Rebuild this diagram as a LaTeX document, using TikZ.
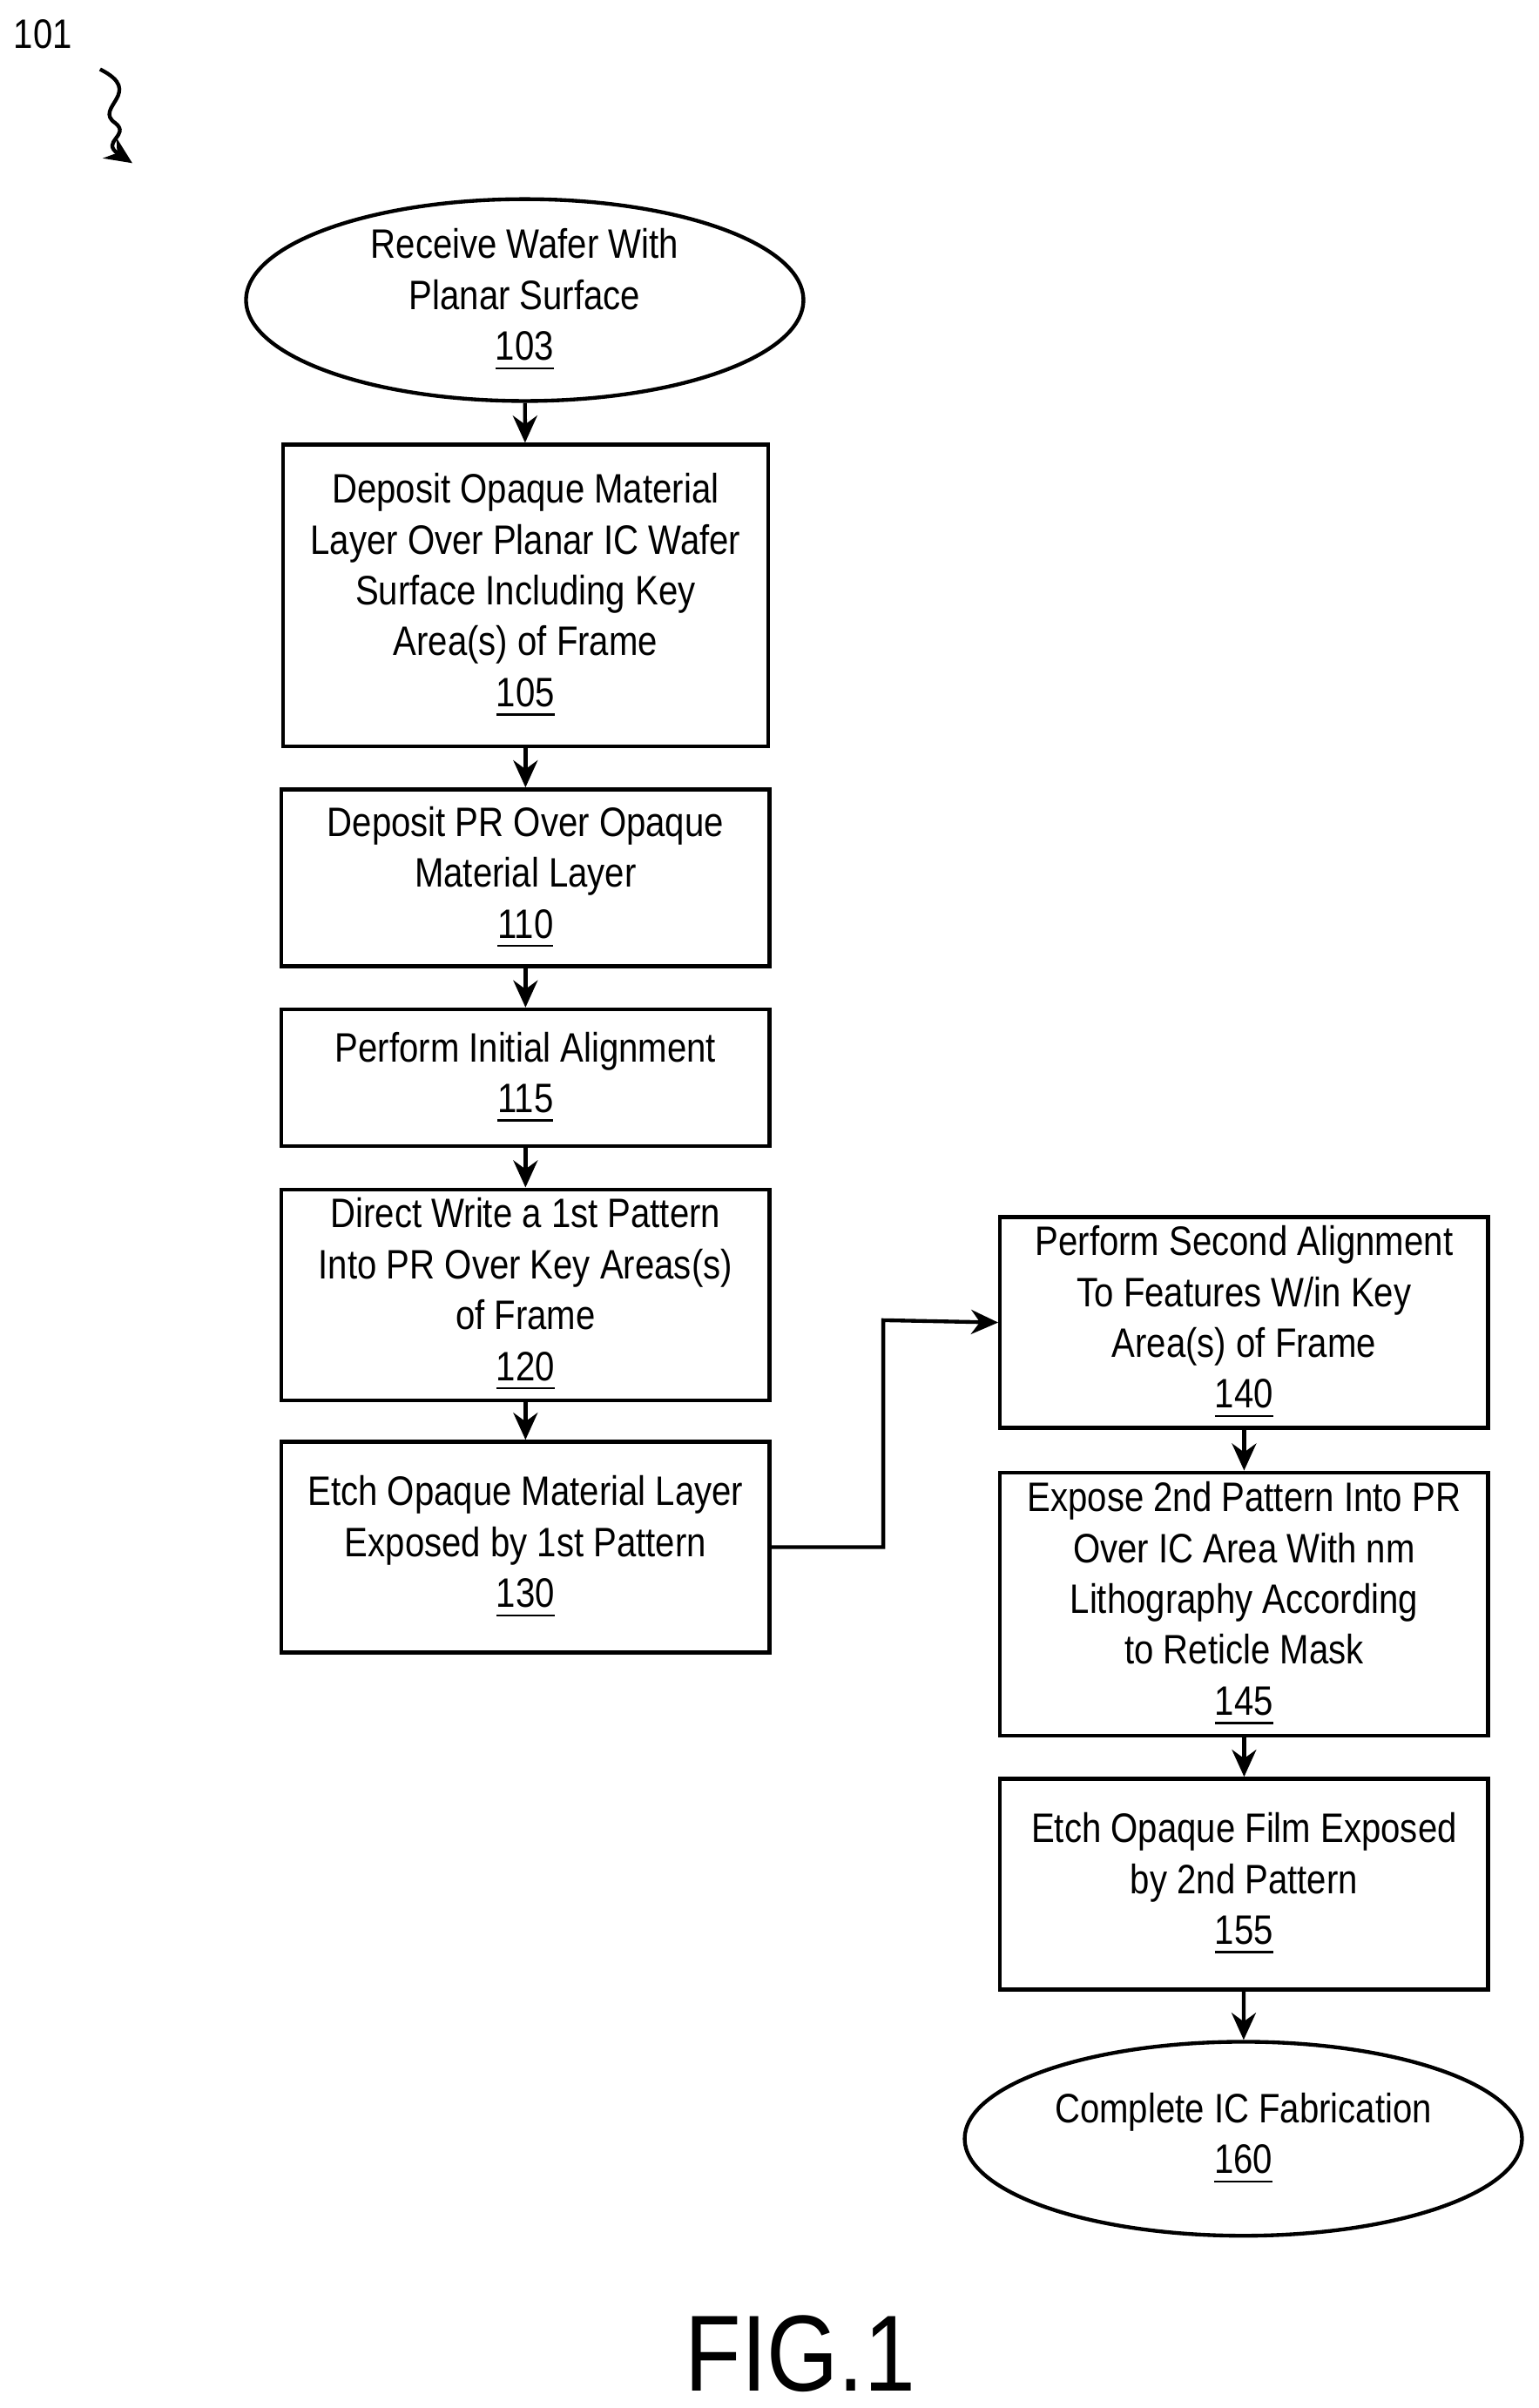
\documentclass[tikz,border=0pt]{standalone}
\usepackage{fontspec}
\setmainfont{Liberation Sans}[FakeStretch=0.85]
\usetikzlibrary{arrows.meta,shapes.geometric}
\begin{document}
\begin{tikzpicture}[x=0.01cm,y=-0.01cm,
  box/.style={draw,line width=0.7pt,align=center,font=\fontsize{7.6pt}{9.4pt}\selectfont,inner sep=0pt},
  ell/.style={box,ellipse},
  arr/.style={-{Stealth[length=5pt,width=4.5pt]},line width=0.7pt}]
\useasboundingbox (0,0) rectangle (1000,1565);
\node[font=\fontsize{7.6pt}{9pt}\selectfont] (l101) at (28,22) {101};
\coordinate (s0) at (65,45);
\coordinate (s1) at (86,106);
\draw[arr] (s0) .. controls (95,60) and (60,70) .. (75,80) .. controls (85,88) and (65,92) .. (s1);
\node[ell,minimum width=3.62cm,minimum height=1.26cm] (n103) at (341,195) {Receive Wafer With\\Planar Surface\\\underline{103}};
\node[box,minimum width=3.15cm,minimum height=1.96cm] (n105) at (341.5,387) {Deposit Opaque Material\\Layer Over Planar IC Wafer\\Surface Including Key\\Area(s) of Frame\\\underline{105}};
\node[box,minimum width=3.17cm,minimum height=1.15cm] (n110) at (341.5,570.5) {Deposit PR Over Opaque\\Material Layer\\\underline{110}};
\node[box,minimum width=3.17cm,minimum height=0.89cm] (n115) at (341.5,700.5) {Perform Initial Alignment\\\underline{115}};
\node[box,minimum width=3.17cm,minimum height=1.37cm] (n120) at (341.5,841.5) {Direct Write a 1st Pattern\\Into PR Over Key Areas(s)\\of Frame\\\underline{120}};
\node[box,minimum width=3.17cm,minimum height=1.37cm] (n130) at (341.5,1005.5) {Etch Opaque Material Layer\\Exposed by 1st Pattern\\\underline{130}};
\node[box,minimum width=3.17cm,minimum height=1.37cm] (n140) at (808.5,859.5) {Perform Second Alignment\\To Features W/in Key\\Area(s) of Frame\\\underline{140}};
\node[box,minimum width=3.17cm,minimum height=1.71cm] (n145) at (808.5,1042.5) {Expose 2nd Pattern Into PR\\Over IC Area With nm\\Lithography According\\to Reticle Mask\\\underline{145}};
\node[box,minimum width=3.17cm,minimum height=1.37cm] (n155) at (808.5,1224.5) {Etch Opaque Film Exposed\\by 2nd Pattern\\\underline{155}};
\node[ell,minimum width=3.62cm,minimum height=1.26cm] (n160) at (808,1390) {Complete IC Fabrication\\\underline{160}};
\node[font=\fontsize{20pt}{22pt}\selectfont] (fig) at (520,1530) {FIG.1};
\draw[arr] (n103) -- (n105);
\draw[arr] (n105) -- (n110);
\draw[arr] (n110) -- (n115);
\draw[arr] (n115) -- (n120);
\draw[arr] (n120) -- (n130);
\draw[arr] (n130.east) -| (574,858) -- (n140.west);
\draw[arr] (n140) -- (n145);
\draw[arr] (n145) -- (n155);
\draw[arr] (n155) -- (n160);
\end{tikzpicture}
\end{document}
